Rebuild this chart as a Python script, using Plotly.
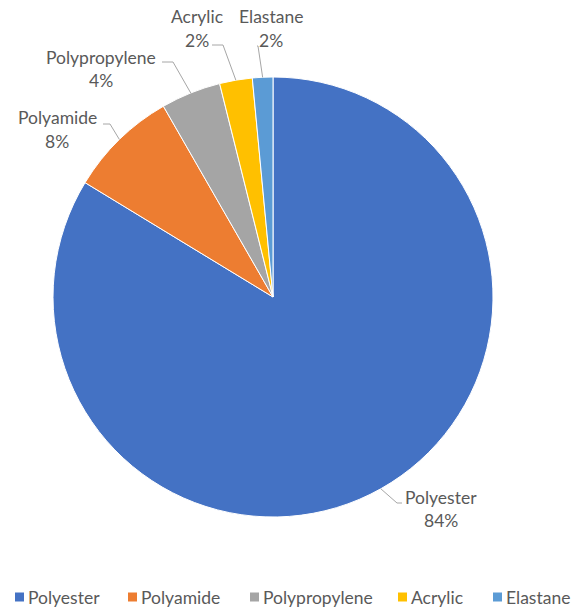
import math
import plotly.graph_objects as go

# Fibre composition shares (%)
fibres = ["Polyester", "Polyamide", "Polypropylene", "Acrylic", "Elastane"]
shares = [83.7, 8.0, 4.4, 2.4, 1.5]
colors = ["#4472C4", "#ED7D31", "#A5A5A5", "#FFC000", "#5B9BD5"]

W, H = 573, 609
CX, CY, R = 273, 297, 220          # pie centre and radius in pixels
TEXT = "#595959"
FONT = "Lato, 'Open Sans', sans-serif"
FSIZE = 17.5

# label layout: name centre, leader-line elbow and end (pixels)
label_pos = {
    "Polyester":     dict(name=(441, 497), elbow=(397, 503), end=(402, 503)),
    "Polyamide":     dict(name=(57, 118),  elbow=(110, 124), end=(103, 124)),
    "Polypropylene": dict(name=(101, 57),  elbow=(173, 62),  end=(162, 62)),
    "Acrylic":       dict(name=(197, 17),  elbow=(223, 45),  end=(212, 45)),
    "Elastane":      dict(name=(271, 17),  elbow=(258, 46),  end=(257, 46)),
}
LINE_GAP = 23

# legend row: left edge of each swatch (pixels) and baseline centre
legend_x = [15, 128, 250, 398, 493]
LEGEND_Y = 597
SWATCH = 9


def px(x):
    return x / W


def py(y):
    return 1 - y / H


fig = go.Figure(go.Pie(
    labels=fibres,
    values=shares,
    marker=dict(colors=colors, line=dict(color="white", width=1)),
    sort=False,
    direction="clockwise",
    rotation=0,
    textinfo="none",
    hoverinfo="label+percent",
    showlegend=False,
    domain=dict(x=[px(CX - R), px(CX + R)], y=[py(CY + R), py(CY - R)]),
))

total = sum(shares)
annotations, shapes = [], []
cum = 0.0
for name, val in zip(fibres, shares):
    mid = (cum + val / 2) / total * 2 * math.pi
    cum += val
    sx = CX + R * math.sin(mid)
    sy = CY - R * math.cos(mid)
    lp = label_pos[name]
    ex, ey = lp["elbow"]
    tx, ty = lp["end"]
    shapes.append(dict(
        type="path", xref="paper", yref="paper",
        path=f"M {px(sx)} {py(sy)} L {px(ex)} {py(ey)} L {px(tx)} {py(ty)}",
        line=dict(color="#A6A6A6", width=1),
    ))
    nx, ny = lp["name"]
    annotations.append(dict(
        x=px(nx), y=py(ny), xref="paper", yref="paper", text=name,
        showarrow=False, xanchor="center", yanchor="middle",
        font=dict(family=FONT, size=FSIZE, color=TEXT),
    ))
    annotations.append(dict(
        x=px(nx), y=py(ny + LINE_GAP), xref="paper", yref="paper",
        text=f"{round(val / total * 100)}%",
        showarrow=False, xanchor="center", yanchor="middle",
        font=dict(family=FONT, size=FSIZE, color=TEXT),
    ))

# legend: coloured swatch followed by the fibre name
for name, col, lx in zip(fibres, colors, legend_x):
    shapes.append(dict(
        type="rect", xref="paper", yref="paper",
        x0=px(lx), x1=px(lx + SWATCH),
        y0=py(LEGEND_Y + SWATCH / 2), y1=py(LEGEND_Y - SWATCH / 2),
        fillcolor=col, line=dict(width=0),
    ))
    annotations.append(dict(
        x=px(lx + SWATCH + 2), y=py(LEGEND_Y), xref="paper", yref="paper",
        text=name, showarrow=False, xanchor="left", yanchor="middle",
        font=dict(family=FONT, size=FSIZE, color=TEXT),
    ))

fig.update_layout(
    width=W, height=H,
    margin=dict(l=0, r=0, t=0, b=0, autoexpand=False),
    paper_bgcolor="white",
    plot_bgcolor="white",
    annotations=annotations,
    shapes=shapes,
    showlegend=False,
)

fig.write_html("out.html")
